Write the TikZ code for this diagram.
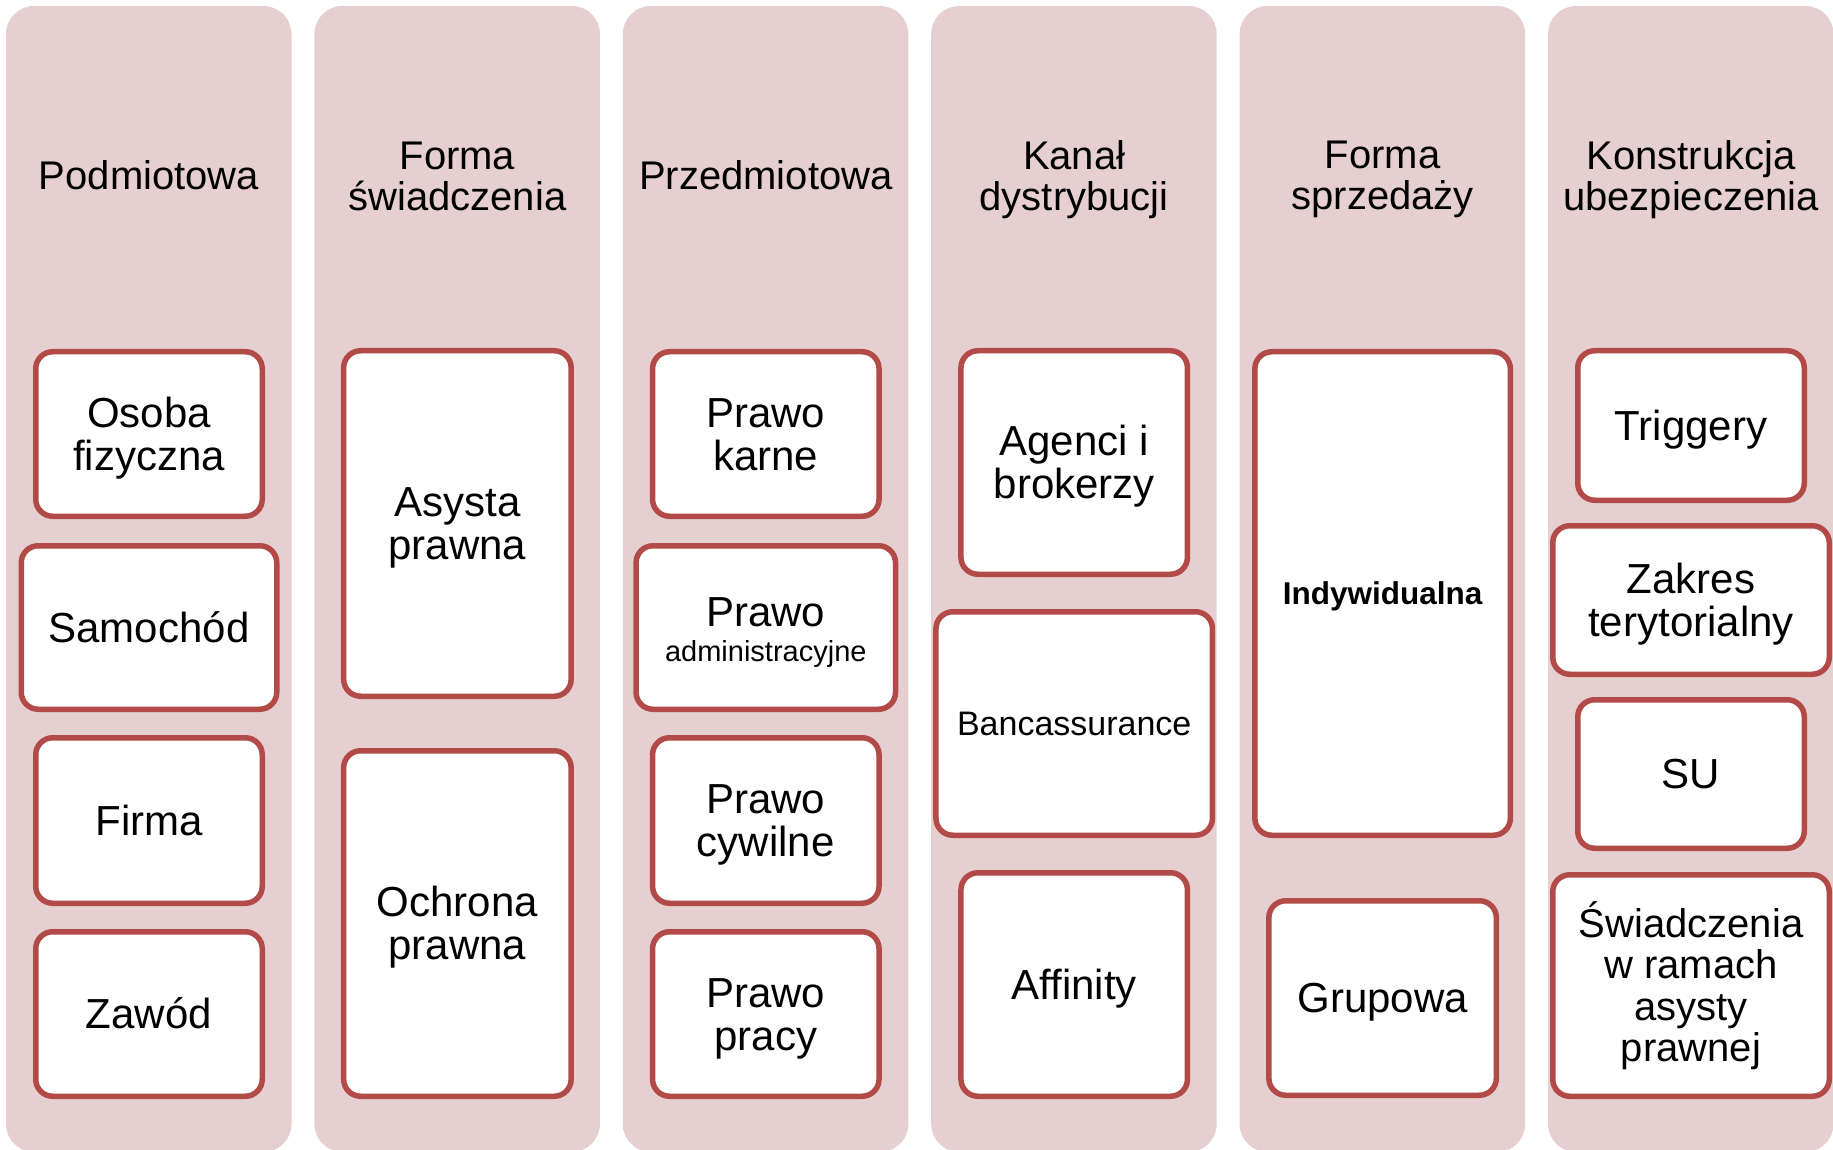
\documentclass[tikz,border=0pt]{standalone}
\usepackage{fontspec}
\setmainfont{Liberation Sans}
\definecolor{colfill}{RGB}{230,207,208}
\definecolor{boxline}{RGB}{178,74,71}
\newcommand{\bs}{\rule{0pt}{0.95em}}
\newcommand{\be}{\rule[-0.24em]{0pt}{0.24em}}
\begin{document}
\begin{tikzpicture}[x=0.5pt,y=-0.5pt,
  colbg/.style={fill=colfill, draw=none, rounded corners=14pt},
  cbox/.style 2 args={draw=boxline, fill=white, line width=2.75pt, rounded corners=8.5pt,
    minimum width={#1*0.5pt-2.75pt}, minimum height={#2*0.5pt-2.75pt},
    align=center, inner sep=0pt, font=\fontsize{21}{21.5}\selectfont},
  coltitle/.style={align=center, inner sep=0pt, font=\fontsize{20}{20.5}\selectfont}]
\useasboundingbox (0,0) rectangle (1833,1150);
\foreach \i in {0,...,5}
  \path[colbg] ({6+308.4*\i},6) rectangle ({291.5+308.4*\i},1152);

% titles
\node[coltitle] (t1) at (149,175) {Podmiotowa};
\node[coltitle] (t2) at (457.4,176) {Forma\\świadczenia};
\node[coltitle] (t3) at (765.8,175) {Przedmiotowa};
\node[coltitle] (t4) at (1074.2,179.5) {Kanał\\dystrybucji};
\node[coltitle] (t5) at (1382.6,179.5) {Forma\\sprzedaży};
\node[coltitle] (t6) at (1691,179.5) {Konstrukcja\\ubezpieczenia};

% column 1
\node[cbox={232}{170}] (osoba) at (149,434) {\bs Osoba\\fizyczna\be};
\node[cbox={261}{169}] (samochod) at (149,627.5) {\bs Samochód\be};
\node[cbox={232}{171}] (firma) at (149,820.5) {\bs Firma\be};
\node[cbox={232}{170}] (zawod) at (149,1014) {\bs Zawód\be};

% column 2
\node[cbox={233}{351}] (asysta) at (457.4,523.5) {\bs Asysta\\prawna\be};
\node[cbox={233}{351}] (ochrona) at (457.4,923.5) {\bs Ochrona\\prawna\be};

% column 3
\node[cbox={232}{170}] (karne) at (765.8,434) {\bs Prawo\\karne\be};
\node[cbox={265}{169}] (admin) at (765.8,627.5) {\bs Prawo\\[-4pt]{\fontsize{14.5}{14.5}\selectfont administracyjne\be}};
\node[cbox={232}{171}] (cywilne) at (765.8,820.5) {\bs Prawo\\cywilne\be};
\node[cbox={232}{170}] (pracy) at (765.8,1014) {\bs Prawo\\pracy\be};

% column 4
\node[cbox={232}{229}] (agenci) at (1074.2,462.5) {\bs Agenci i\\brokerzy\be};
\node[cbox={282}{229}, font=\fontsize{17}{17}\selectfont] (banc) at (1074.2,723.5) {\bs Bancassurance\be};
\node[cbox={232}{229}] (affinity) at (1074.2,984.5) {\bs Affinity\be};

% column 5
\node[cbox={261}{489}, font=\fontsize{15.75}{16}\selectfont\bfseries] (indyw) at (1382.6,593.5) {\bs Indywidualna\be};
\node[cbox={233}{200}] (grupowa) at (1382.6,998) {\bs Grupowa\be};

% column 6
\node[cbox={232}{155}] (triggery) at (1691,425.5) {\bs Triggery\be};
\node[cbox={282}{154}] (zakres) at (1691,600) {\bs Zakres\\terytorialny\be};
\node[cbox={232}{154}] (su) at (1691,774) {\bs SU\be};
\node[cbox={282}{227}, font=\fontsize{20}{20.75}\selectfont] (swiad) at (1691,985.5) {\bs Świadczenia\\w ramach\\asysty\\prawnej\be};
\end{tikzpicture}
\end{document}
